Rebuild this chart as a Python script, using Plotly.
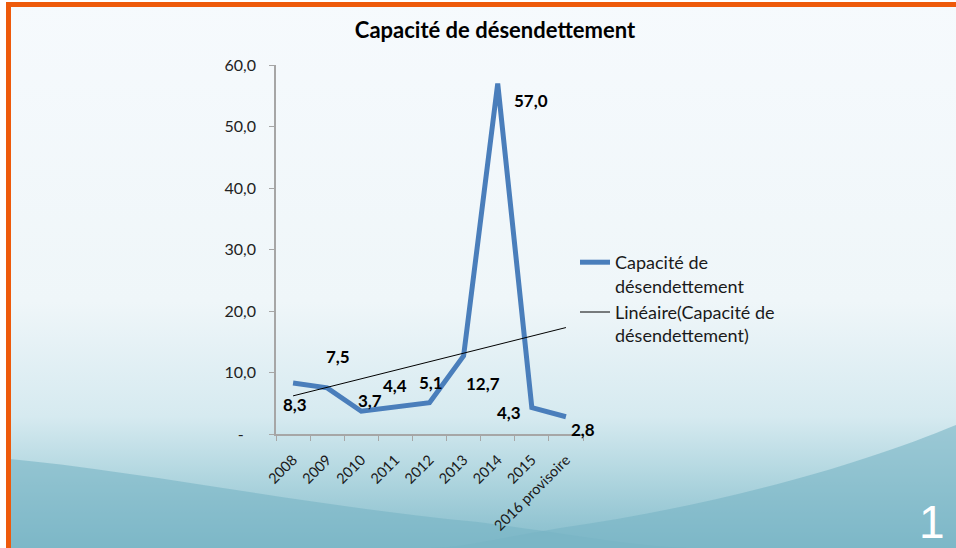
import base64
import numpy as np
import plotly.graph_objects as go

# ---------------- data ----------------
categories = ["2008", "2009", "2010", "2011", "2012", "2013", "2014", "2015", "2016 provisoire"]
values = [8.3, 7.5, 3.7, 4.4, 5.1, 12.7, 57.0, 4.3, 2.8]
y_tick_values = [0, 10, 20, 30, 40, 50, 60]
y_tick_labels = ["-\u00a0\u00a0\u00a0", "10,0", "20,0", "30,0", "40,0", "50,0", "60,0"]
title_text = "Capacité de désendettement"
series_name = "Capacité de<br>désendettement"
trend_name = "Linéaire(Capacité de<br>désendettement)"
slide_number = "1"

# label offsets in pixels (dx right, dy down) - styling
label_dx = [2, 11, 9, 0, 1, 19, 33, -23, 17]
label_dy = [22, -31, -11, -21, -20, 28, 17, 5, 13]

# linear trend line (Excel "Linéaire")
idx = np.arange(1, len(values) + 1)
slope, intercept = np.polyfit(idx, values, 1)
trend = slope * idx + intercept

# ---------------- geometry ----------------
W, H = 956, 548
L, R, T, B = 276, 583, 65, 434
pw, ph = R - L, B - T


def px2x(px):
    return (px - L) / pw


def px2y(py):
    return (B - py) / ph


FONT = "Lato"

fig = go.Figure()
fig.add_trace(go.Scatter(
    x=categories, y=values, mode="lines", name=series_name,
    line=dict(color="#4a7ebb", width=5), hoverinfo="skip"))
fig.add_trace(go.Scatter(
    x=categories, y=trend, mode="lines", name=trend_name,
    line=dict(color="#000000", width=1), hoverinfo="skip"))

# data labels (x given as category index)
for i, (v, dx, dy) in enumerate(zip(values, label_dx, label_dy)):
    fig.add_annotation(
        x=i, y=v, text=f"{v:.1f}".replace(".", ","), showarrow=False,
        xshift=dx, yshift=-dy, xanchor="center", yanchor="middle",
        font=dict(family=FONT, size=17, color="#000000", weight=700))

# slide number
fig.add_annotation(
    xref="paper", yref="paper", x=px2x(932), y=px2y(522), text=slide_number,
    showarrow=False, xanchor="center", yanchor="middle",
    font=dict(family="Liberation Sans", size=46, color="#ffffff"))

# background (slide gradient + waves + orange frame)
svg = f'''<svg xmlns="http://www.w3.org/2000/svg" width="{W}" height="{H}" viewBox="0 0 {W} {H}" preserveAspectRatio="none">
<defs>
<linearGradient id="g" x1="0" y1="0" x2="0" y2="1">
<stop offset="0" stop-color="#f6fafd"/>
<stop offset="0.55" stop-color="#eff6f9"/>
<stop offset="0.76" stop-color="#d6eaf0"/>
<stop offset="0.86" stop-color="#b4d8e1"/>
<stop offset="1" stop-color="#84bccb"/>
</linearGradient>
</defs>
<rect width="{W}" height="{H}" fill="url(#g)"/>
<path d="M0,458 C150,472 300,505 478,522 C580,535 640,548 700,548 L0,548 Z" fill="#78b4c4" fill-opacity="0.6"/>
<path d="M956,425 C860,465 720,505 560,528 C500,538 460,548 430,548 L956,548 Z" fill="#78b4c4" fill-opacity="0.6"/>
<rect x="0" y="0" width="6" height="{H}" fill="#ffffff"/>
<rect x="0" y="0" width="{W}" height="2" fill="#ffffff"/>
<rect x="6" y="2" width="5" height="{H}" fill="#ee5a0b"/>
<rect x="6" y="2" width="{W}" height="5" fill="#ee5a0b"/>
</svg>'''
src = "data:image/svg+xml;base64," + base64.b64encode(svg.encode("utf-8")).decode("ascii")
fig.add_layout_image(dict(
    source=src, xref="paper", yref="paper", x=px2x(0), y=px2y(0),
    sizex=W / pw, sizey=H / ph, xanchor="left", yanchor="top",
    sizing="stretch", layer="below"))

fig.update_layout(
    width=W, height=H,
    margin=dict(l=L, r=W - R, t=T, b=H - B, pad=0),
    paper_bgcolor="#ffffff", plot_bgcolor="rgba(0,0,0,0)",
    font=dict(family=FONT, color="#222222"),
    title=dict(text=title_text, x=495 / W, y=1 - 30 / H, xref="container", yref="container",
               xanchor="center", yanchor="middle",
               font=dict(family=FONT, size=22, color="#000000", weight=700)),
    showlegend=True,
    legend=dict(x=px2x(575), y=px2y(244), xanchor="left", yanchor="top",
                bgcolor="rgba(0,0,0,0)", font=dict(family=FONT, size=18, color="#1a1a1a"),
                valign="top", itemwidth=30, tracegroupgap=0),
    xaxis=dict(type="category", categoryorder="array", categoryarray=categories,
               range=[-0.5, len(categories) - 0.5], showgrid=False, zeroline=False,
               showline=True, linecolor="#a6a6a6", linewidth=1.5,
               ticks="outside", tickson="boundaries", ticklen=5, tickcolor="#a6a6a6",
               ticklabelstandoff=10,
               tickangle=-45, tickfont=dict(family=FONT, size=14.5, color="#1a1a1a")),
    yaxis=dict(range=[0, 60], tickvals=y_tick_values, ticktext=y_tick_labels,
               showgrid=False, zeroline=False, showline=True, linecolor="#a6a6a6", linewidth=1.5,
               ticks="outside", ticklen=5, tickcolor="#a6a6a6", ticklabelstandoff=10,
               tickfont=dict(family=FONT, size=16, color="#222222")),
)

fig.write_html(
    "out.html",
    config={"displayModeBar": False},
    post_script="document.body.style.margin='0';document.body.style.overflow='hidden';")
